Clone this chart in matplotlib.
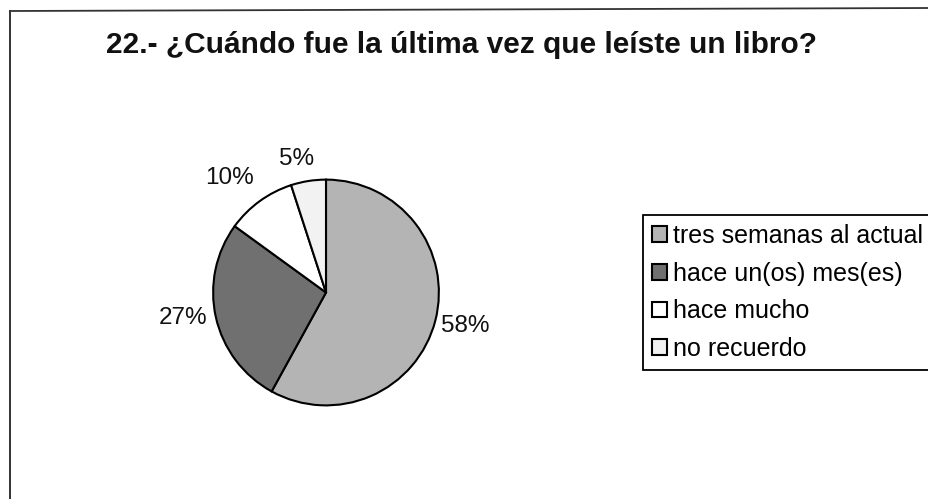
import matplotlib
matplotlib.use("Agg")
import matplotlib.pyplot as plt
from matplotlib.patches import Rectangle
from matplotlib.lines import Line2D

title = "22.- ¿Cuándo fue la última vez que leíste un libro?"
categories = ["tres semanas al actual", "hace un(os) mes(es)", "hace mucho", "no recuerdo"]
values = [58, 27, 10, 5]
pct_labels = ["58%", "27%", "10%", "5%"]
colors = ["#b4b4b4", "#707070", "#ffffff", "#f2f2f2"]
# label positions (in pie radius units)
label_pos = [(1.237, -0.30), (-1.263, -0.224), (-0.851, 1.013), (-0.263, 1.18)]

plt.rcParams['font.family'] = ['Liberation Sans', 'DejaVu Sans']

W, H = 929, 499
fig = plt.figure(figsize=(W / 100, H / 100), dpi=100)
fig.patch.set_facecolor("white")

# frame lines
fig.add_artist(Line2D([10 / W, 10 / W], [0, 1 - 11 / H], transform=fig.transFigure, color="#222222", lw=1.3))
fig.add_artist(Line2D([10 / W, 1.0], [1 - 11 / H, 1 - 8 / H], transform=fig.transFigure, color="#333333", lw=1.3))

cx, cy, r = 326, 292.5, 114
ax = fig.add_axes([(cx - r) / W, 1 - (cy + r) / H, 2 * r / W, 2 * r / H])
wedges, texts = ax.pie(values, colors=colors, startangle=90, counterclock=False,
                       labels=pct_labels, labeldistance=1.2,
                       wedgeprops=dict(edgecolor="black", linewidth=1.5),
                       textprops=dict(fontsize=17.5, color="#111111"))
for t, p in zip(texts, label_pos):
    t.set_position(p)
    t.set_ha("center")
    t.set_va("center")
ax.set_xlim(-1.01, 1.01)
ax.set_ylim(-1.01, 1.01)
ax.set_aspect("equal")

fig.text(462 / W, 1 - 45 / H, title, ha="center", va="center", fontsize=21.5, fontweight="bold", color="#111111")

handles = [Rectangle((0, 0), 1, 1, facecolor=c, edgecolor="black", linewidth=1.5) for c in colors]
leg = fig.legend(handles, categories, loc="upper left", bbox_to_anchor=(643 / W, 1 - 215 / H),
                 bbox_transform=fig.transFigure, borderaxespad=0, fontsize=18,
                 handlelength=0.6, handleheight=0.6, handletextpad=0.25, labelspacing=0.55,
                 borderpad=0.35, fancybox=False, frameon=True, framealpha=1)
leg.get_frame().set_edgecolor("black")
leg.get_frame().set_linewidth(1.3)

fig.savefig("out.png", dpi=100)
